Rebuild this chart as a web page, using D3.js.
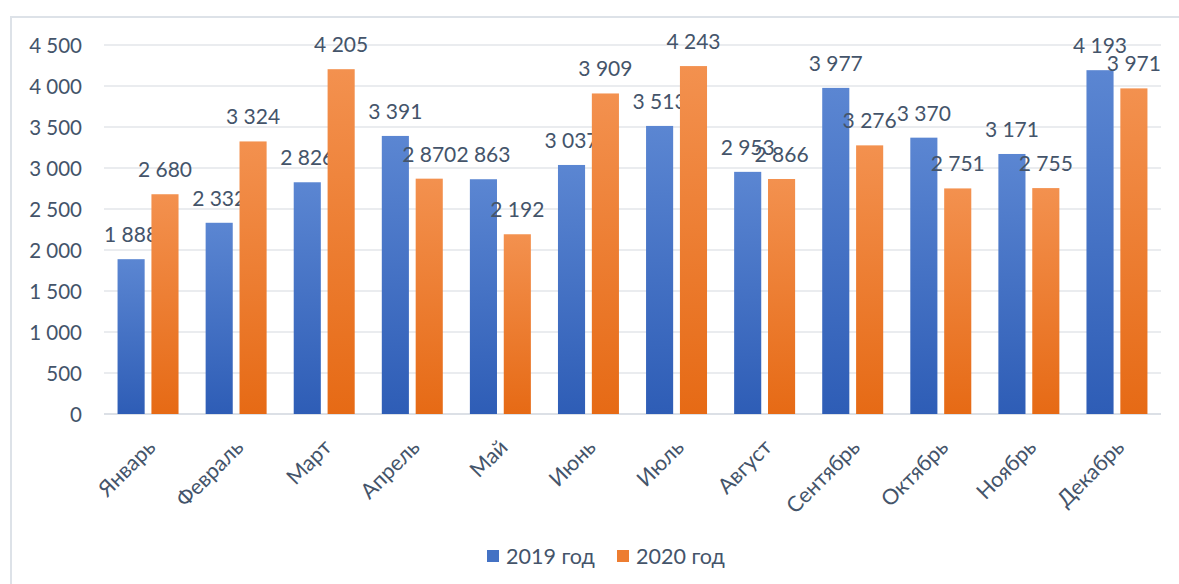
<!DOCTYPE html>
<html>
<head>
<meta charset="utf-8">
<script src="https://cdn.jsdelivr.net/npm/d3@7"></script>
<style>
  body { margin: 0; background: #fff; }
  text { font-family: Lato, "Noto Sans", sans-serif; fill: #44546a; }
</style>
</head>
<body>
<div id="container"></div>
<script>
const months = ["Январь", "Февраль", "Март", "Апрель", "Май", "Июнь", "Июль", "Август", "Сентябрь", "Октябрь", "Ноябрь", "Декабрь"];
const values2019 = [1888, 2332, 2826, 3391, 2863, 3037, 3513, 2953, 3977, 3370, 3171, 4193];
const values2020 = [2680, 3324, 4205, 2870, 2192, 3909, 4243, 2866, 3276, 2751, 2755, 3971];
const seriesNames = ["2019 год", "2020 год"];
const yTicks = [0, 500, 1000, 1500, 2000, 2500, 3000, 3500, 4000, 4500];

let w = 1179;
let h = 584;
let plotL = 104, plotR = 1161, plotT = 45, plotB = 414;

let fmt = v => d3.format(",")(v).replace(/,/g, "\u00a0");

let viz = d3.select("#container").append("svg")
    .attr("width", w)
    .attr("height", h);

// gradients for the bars
let defs = viz.append("defs");
let grads = [["gBlue", "#5b86d2", "#2e5db6"], ["gOrange", "#f3914f", "#e66a15"]];
grads.forEach(g => {
  let lg = defs.append("linearGradient").attr("id", g[0])
      .attr("x1", 0).attr("y1", 0).attr("x2", 0).attr("y2", 1);
  lg.append("stop").attr("offset", "0%").attr("stop-color", g[1]);
  lg.append("stop").attr("offset", "100%").attr("stop-color", g[2]);
});

// frame
viz.append("path")
    .attr("d", `M11,${h} L11,17 L${w},17`)
    .attr("fill", "none")
    .attr("stroke", "#dde2e8")
    .attr("stroke-width", 2);

let x = d3.scaleBand().domain(months).range([plotL, plotR]);
let xs = d3.scaleBand().domain([0, 1]).range([0, x.bandwidth()]).paddingInner(0.2).paddingOuter(0.4);
let y = d3.scaleLinear().domain([0, 4500]).range([plotB, plotT]);

// gridlines
viz.append("g").selectAll("line").data(yTicks).enter()
  .append("line")
    .attr("x1", plotL).attr("x2", plotR)
    .attr("y1", d => y(d)).attr("y2", d => y(d))
    .attr("stroke", d => d === 0 ? "#d0d6de" : "#e3e6ea")
    .attr("stroke-width", 1.3);

// y axis labels
let yAxis = d3.axisLeft(y).tickValues(yTicks).tickFormat(fmt).tickSize(0).tickPadding(0);
let ya = viz.append("g").attr("transform", "translate(82,0)").call(yAxis);
ya.select(".domain").remove();
ya.selectAll("text").style("font-size", "20.5px").style("font-family", null).attr("fill", "#44546a").attr("dy", "0.36em");

let data = [values2019, values2020];
let fills = ["url(#gBlue)", "url(#gOrange)"];

data.forEach((vals, s) => {
  let g = viz.append("g");
  g.selectAll("rect").data(vals).enter()
    .append("rect")
      .attr("x", (d, i) => x(months[i]) + xs(s))
      .attr("width", xs.bandwidth())
      .attr("y", d => y(d))
      .attr("height", d => y(0) - y(d))
      .attr("fill", fills[s]);
  g.selectAll("text").data(vals).enter()
    .append("text")
      .attr("x", (d, i) => x(months[i]) + xs(s) + xs.bandwidth() / 2)
      .attr("y", d => y(d) - 17)
      .attr("text-anchor", "middle")
      .style("font-size", "21px")
      .text(fmt);
});

// x axis labels
viz.append("g").selectAll("text").data(months).enter()
  .append("text")
    .attr("transform", d => `translate(${x(d) + x.bandwidth() / 2 - 2},${plotB + 24}) rotate(-45)`)
    .attr("text-anchor", "end")
    .attr("dy", "0.7em")
    .style("font-size", "21.5px")
    .text(d => d);

// legend
let legend = viz.append("g").attr("transform", "translate(487,556)");
let legX = [0, 130];
seriesNames.forEach((n, i) => {
  legend.append("rect")
      .attr("x", legX[i]).attr("y", -6)
      .attr("width", 12).attr("height", 12)
      .attr("fill", ["#4472c4", "#ed7d31"][i]);
  legend.append("text")
      .attr("x", legX[i] + 19).attr("y", 0)
      .attr("dy", "0.36em")
      .style("font-size", "21.5px")
      .text(n);
});
</script>
</body>
</html>
